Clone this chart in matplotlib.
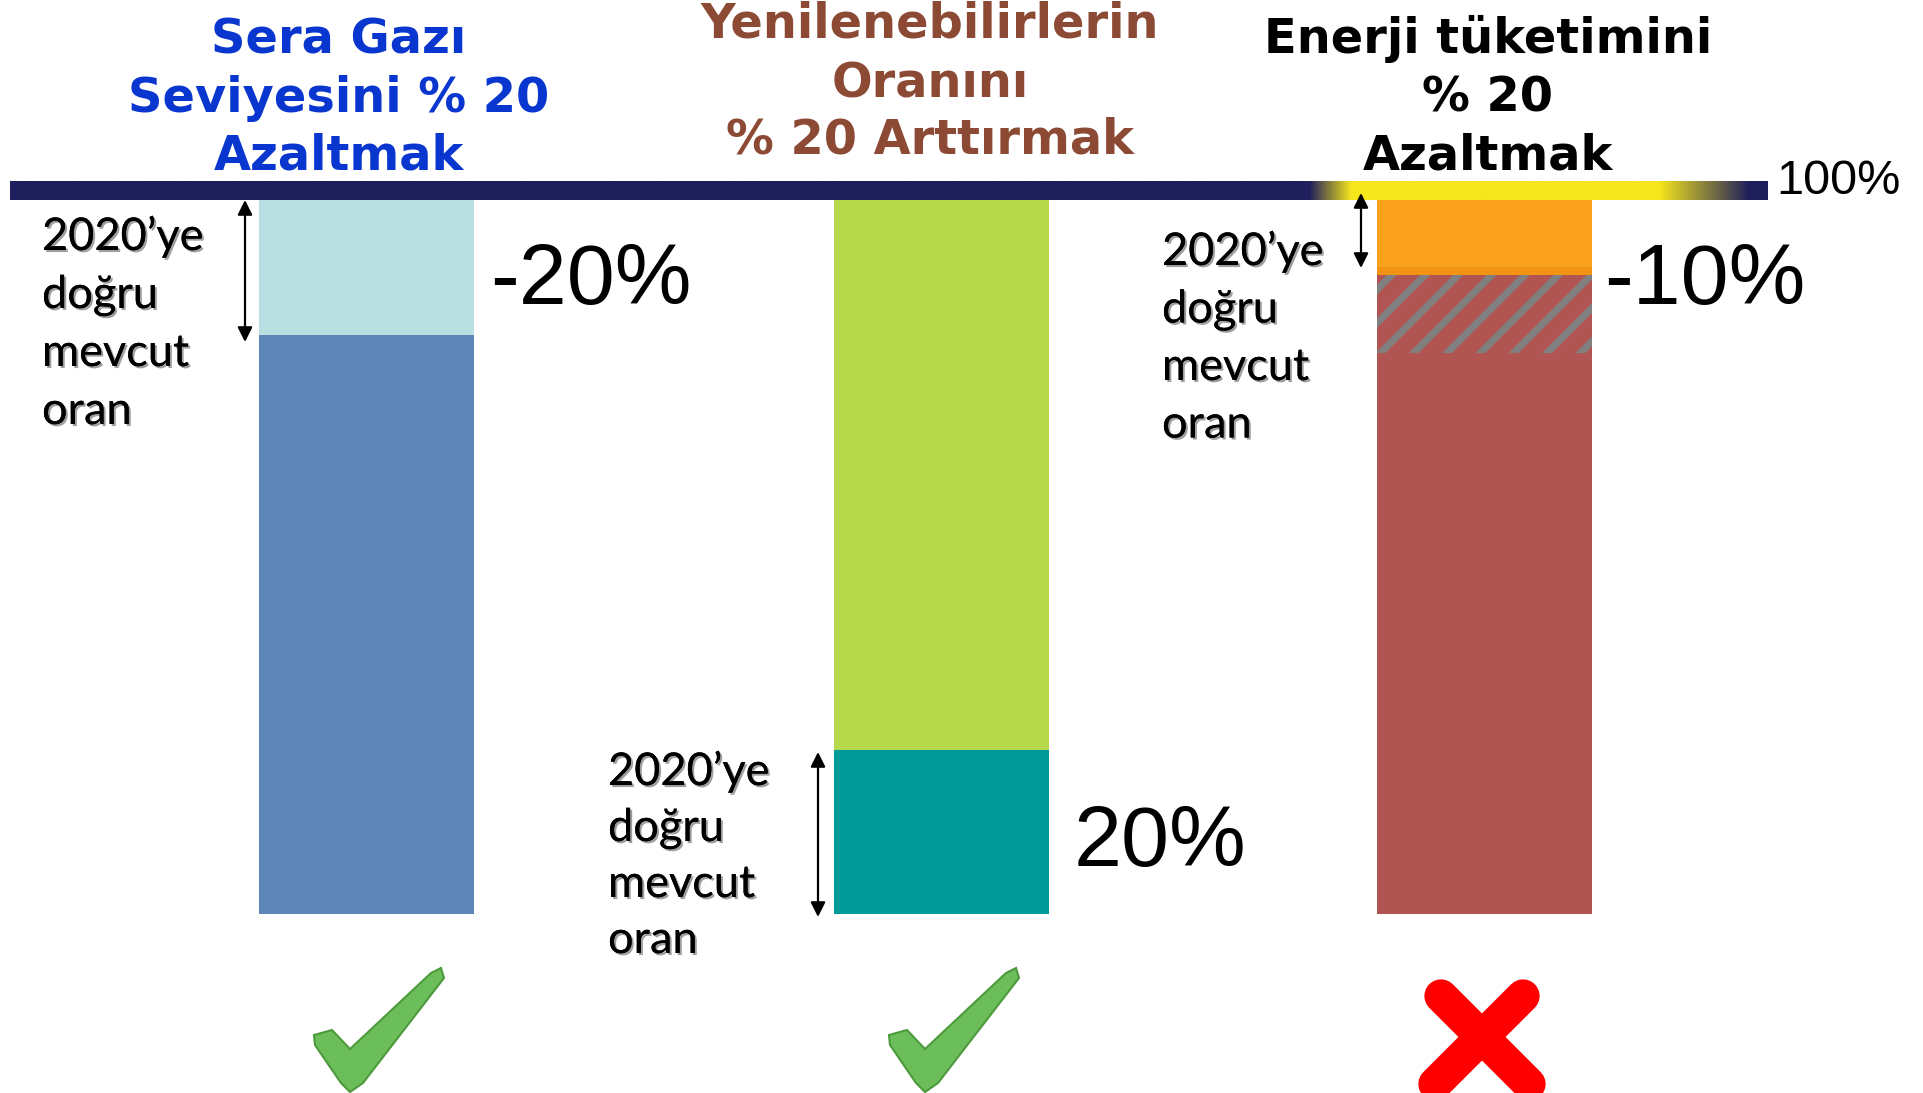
import numpy as np
import matplotlib
matplotlib.use('Agg')
import matplotlib.pyplot as plt
import matplotlib.patheffects as pe
from matplotlib.patches import Polygon

# hedef basliklari
basliklar = [
  ['Sera Gazı', 'Seviyesini % 20', 'Azaltmak'],
  ['Yenilenebilirlerin', 'Oranını', '% 20 Arttırmak'],
  ['Enerji tüketimini', '% 20', 'Azaltmak'],
]
# cubuk degerleri (100% = ust cizgi)
mevcut_oran = [81.1, 23.0, 78.6]   # 2020'ye dogru mevcut oran
eksik_oran = [0.0, 0.0, 10.9]      # hedefe kalan (taralı)
gecis_oran = [0.0, 0.0, 1.1]
hedef_oran = [18.9, 77.0, 9.4]
yuzde_etiket = ['-20%', '20%', '-10%']
ust_etiket = '100%'
basari = [True, True, False]
etiket_satir = ['2020\u2019ye', 'doğru', 'mevcut', 'oran']

W, H = 1923, 1093
bar_x = [366, 941, 1484]
alt_renk = ['#5E87B8', '#009A99', '#B05552']
ust_renk = ['#B9DFE2', '#B5D94A', '#FBA21C']
baslik_renk = ['#0A36D0', '#8C4A34', '#000000']
dar_font = 'Liberation Sans'

plt.rcParams['hatch.linewidth'] = 5.0
fig = plt.figure(figsize=(W / 100, H / 100), dpi=100)
fig.patch.set_facecolor('white')

ax = fig.add_axes([0, (H - 914) / H, 1, 714 / H])
ax.set_xlim(0, W)
ax.set_ylim(0, 100)
ax.axis('off')

alt = np.array(mevcut_oran)
ax.bar(bar_x, mevcut_oran, width=215, color=alt_renk, linewidth=0)
tarali = ax.bar(bar_x, eksik_oran, width=215, bottom=alt, color='#B05552',
                edgecolor='#808080', linewidth=0, hatch='/')
for p in tarali:
  if hasattr(p, 'set_hatch_linewidth'):
    p.set_hatch_linewidth(5.0)
alt = alt + np.array(eksik_oran)
ax.bar(bar_x, gecis_oran, width=215, bottom=alt, color='#F29314', linewidth=0)
alt = alt + np.array(gecis_oran)
ax.bar(bar_x, hedef_oran, width=215, bottom=alt, color=ust_renk, linewidth=0)

ov = fig.add_axes([0, 0, 1, 1])
ov.set_xlim(0, W)
ov.set_ylim(H, 0)
ov.axis('off')

# ust serit (lacivert + sari)
xs = np.linspace(10, 1768, 900)
lac = np.array([30, 31, 92]) / 255
sari = np.array([246, 230, 28]) / 255
w = np.interp(xs, [1310, 1352, 1660, 1750], [0, 1, 1, 0])
band = lac[None, :] * (1 - w[:, None]) + sari[None, :] * w[:, None]
ov.imshow(band[None, :, :], extent=[10, 1768, 200, 181], aspect='auto', zorder=1)

# basliklar
baslik_x = [339, 930, 1488]
baslik_y = [[53, 112, 169], [38, 97, 153], [53, 112, 169]]
for i in range(3):
  for j, s in enumerate(basliklar[i]):
    ov.text(baslik_x[i], baslik_y[i][j], s, color=baslik_renk[i], fontsize=34.5,
            fontweight='bold', family='DejaVu Sans', ha='center', va='baseline')

ov.text(1776, 194, ust_etiket, fontsize=35, family=dar_font, va='baseline')

golge = [pe.withSimplePatchShadow(offset=(1.5, -1.5), shadow_rgbFace='#777777', alpha=0.7),
         pe.Normal()]
etiket_konum = [(42, 250, 58), (608, 785, 56), (1162, 265, 57.5)]
for x0, y0, dy in etiket_konum:
  for j, s in enumerate(etiket_satir):
    ov.text(x0, y0 + j * dy, s, fontsize=32.5, family='Lato', va='baseline',
            path_effects=golge)

yuzde_konum = [(490, 304), (1074, 866), (1604, 304)]
for (x0, y0), s in zip(yuzde_konum, yuzde_etiket):
  ov.text(x0, y0, s, fontsize=62, family=dar_font, va='baseline')

# oklar
for x0, y1, y2 in [(245, 200, 342), (818, 752, 917), (1361, 193, 268)]:
  ov.annotate('', xy=(x0, y1), xytext=(x0, y2),
               arrowprops=dict(arrowstyle='<|-|>', color='black', lw=1.6,
                               mutation_scale=22, shrinkA=0, shrinkB=0))

# isaretler
tik = np.array([[885, 1035], [903, 1030], [921, 1049], [1002, 973], [1012, 968],
                [1015, 978], [934, 1083], [921, 1092], [912, 1083], [886, 1045]])
for k, ok in enumerate(basari):
  cx = bar_x[k]
  if ok:
    pts = tik + np.array([cx - 941 + 4, 0])
    ov.add_patch(Polygon(pts, closed=True, facecolor='#6CBE5A', edgecolor='#4C9A3C',
                         lw=1.5, zorder=3))
  else:
    ov.plot([cx - 43, cx + 45], [996, 1084], color='#FF0000', lw=24,
            solid_capstyle='round', zorder=3)
    ov.plot([cx + 39, cx - 49], [996, 1084], color='#FF0000', lw=24,
            solid_capstyle='round', zorder=3)

fig.savefig('out.png', dpi=100)
